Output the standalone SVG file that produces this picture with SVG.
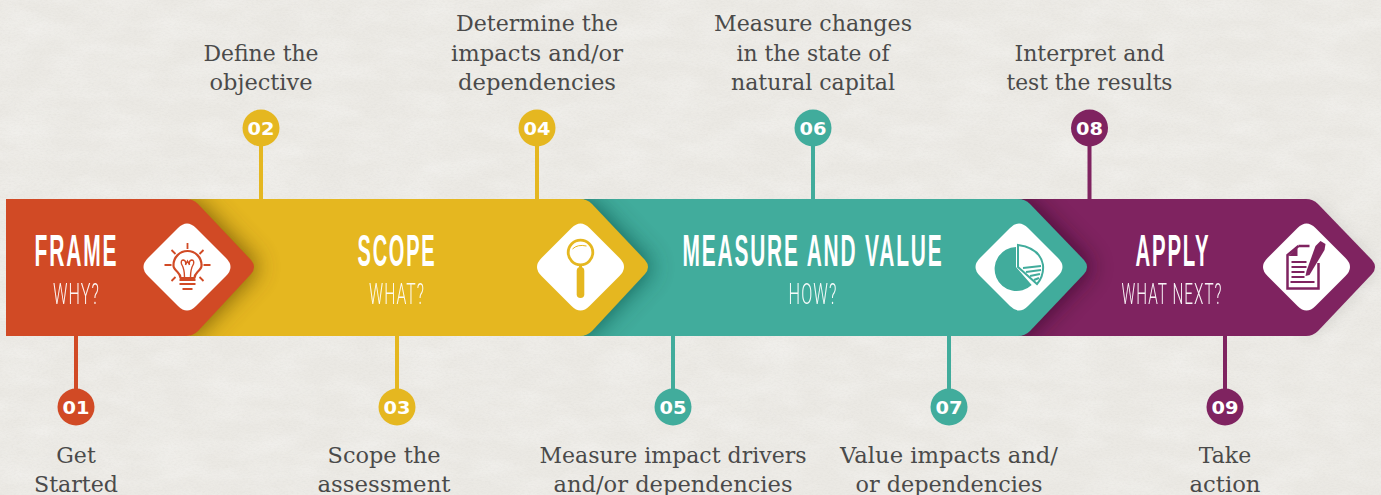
<svg xmlns="http://www.w3.org/2000/svg" width="1381" height="495" viewBox="0 0 1381 495">
<style>
.d{font-family:"DejaVu Serif","Liberation Serif",serif;font-size:22px;fill:#4a4a4a;text-anchor:middle;font-weight:400}
.n{font-family:"DejaVu Sans","Liberation Sans",sans-serif;font-size:18px;font-weight:700;fill:#fff;text-anchor:middle}
.t{font-family:"Liberation Sans",Arial,sans-serif;font-size:45px;font-weight:700;letter-spacing:4px;fill:#fff;text-anchor:middle}
.s{font-family:Roboto,"Liberation Sans",Arial,sans-serif;font-size:30px;font-weight:300;letter-spacing:2px;fill:#fff;text-anchor:middle;opacity:.95}
.r{fill:#d14a25}.y{fill:#e5b720}.g{fill:#41ac9c}.p{fill:#7f2360}
.lr{stroke:#d14a25}.ly{stroke:#e5b720}.lg{stroke:#41ac9c}.lp{stroke:#7f2360}
.conn line{stroke-width:4}
</style>
<defs>
<filter id="paper" x="0" y="0" width="100%" height="100%">
<feTurbulence type="fractalNoise" baseFrequency="0.35 0.7" numOctaves="3" seed="7"/>
<feColorMatrix values="0 0 0 0 0.45  0 0 0 0 0.44  0 0 0 0 0.4  0.5 0 0 0 -0.2"/>
</filter>
<filter id="mottle" x="0" y="0" width="100%" height="100%">
<feTurbulence type="fractalNoise" baseFrequency="0.02 0.05" numOctaves="3" seed="3"/>
<feColorMatrix values="0 0 0 0 1  0 0 0 0 1  0 0 0 0 1  1.2 0 0 0 -0.4"/>
</filter>
<filter id="blur" x="-40%" y="-30%" width="180%" height="160%"><feGaussianBlur stdDeviation="12"/></filter>
<filter id="blurBg" x="-10%" y="-30%" width="120%" height="160%"><feGaussianBlur stdDeviation="9"/></filter>
<clipPath id="cy"><path d="M190 199H584L649 267L584 336H190Z"/></clipPath>
<clipPath id="cg"><path d="M584 199H1022L1088 267L1022 336H584Z"/></clipPath>
<clipPath id="cp"><path d="M1022 199H1316L1376 267L1316 336H1022Z"/></clipPath>
<path id="dia" d="M-9 -39Q0 -48 9 -39L39 -9Q48 0 39 9L9 39Q0 48 -9 39L-39 9Q-48 0 -39 -9Z" fill="#fff"/>
</defs>
<rect width="1381" height="495" fill="#ebe9e4"/>
<rect width="1381" height="495" filter="url(#mottle)" opacity=".4"/>
<rect width="1381" height="495" filter="url(#paper)" opacity=".35"/>
<path d="M1300 205H1316L1376 267L1316 332H1300Z" fill="#000" opacity=".12" filter="url(#blurBg)"/>

<g id="connectors" class="conn">
<line class="lr" x1="76" y1="336" x2="76" y2="400"/>
<line class="ly" x1="261" y1="199" x2="261" y2="135"/>
<line class="ly" x1="397" y1="336" x2="397" y2="400"/>
<line class="ly" x1="537" y1="199" x2="537" y2="135"/>
<line class="lg" x1="673" y1="336" x2="673" y2="400"/>
<line class="lg" x1="813" y1="199" x2="813" y2="135"/>
<line class="lg" x1="949" y1="336" x2="949" y2="400"/>
<line class="lp" x1="1089.500" y1="199" x2="1089.500" y2="135"/>
<line class="lp" x1="1225" y1="336" x2="1225" y2="400"/>
</g>

<g id="band-apply">
<path class="p" d="M1010 199H1306Q1313 199 1318 204L1372 260Q1378 267 1372 274L1318 331Q1313 336 1306 336H1010Z"/>
<g clip-path="url(#cp)"><path d="M1000 199H1026L1092 267L1026 336H1000Z" fill="#2c0a20" opacity=".75" filter="url(#blur)"/></g>
<text class="t" x="1173" y="265.500" textLength="75" lengthAdjust="spacingAndGlyphs">APPLY</text>
<text class="s" x="1172" y="304" textLength="101" lengthAdjust="spacingAndGlyphs">WHAT NEXT?</text>
<use href="#dia" x="1306.500" y="267"/>
<g transform="translate(1306.500 267)">
<path d="M-8 -21H3M-8 -21L-19 -12V21.500H12V-4" fill="none" stroke="#7f2360" stroke-width="2.500"/>
<path class="p" d="M-9 -20V-11H-18Z"/>
<path d="M-15 -5H0M-15 0H0M-15 5H-2M-15 10H-2M-16 15H8" stroke="#7f2360" stroke-width="2.200" fill="none"/>
<path class="p" d="M9 -21L14 -26 19 -23 18 -17 3 8 -1 9 0 4Z"/>
</g>
</g>

<g id="band-measure">
<path class="g" d="M570 199H1018Q1025 199 1030 204L1084 260Q1090 267 1084 274L1030 331Q1025 336 1018 336H570Z"/>
<g clip-path="url(#cg)"><path d="M560 199H588L653 267L588 336H560Z" fill="#0c4a40" opacity=".75" filter="url(#blur)"/></g>
<text class="t" x="813" y="265.500" textLength="261" lengthAdjust="spacingAndGlyphs">MEASURE AND VALUE</text>
<text class="s" x="813" y="304" textLength="49" lengthAdjust="spacingAndGlyphs">HOW?</text>
<use href="#dia" x="1019" y="267"/>
<g transform="translate(1019 267)">
<path class="g" d="M-3 -20V0L12.700 18A22 22 0 1 1 -3 -20Z"/>
<path d="M-1 -22V0L18 17Q25 9 24 -2Q21 -19 -1 -22Z" fill="#fff" stroke="#41ac9c" stroke-width="2"/>
<path d="M4 1L22 -1M7 5L22 3M11 9L21 7M15 13L20 11" stroke="#41ac9c" stroke-width="2.200" fill="none"/>
</g>
</g>

<g id="band-scope">
<path class="y" d="M170 199H580Q587 199 592 204L645 260Q651 267 645 274L592 331Q587 336 580 336H170Z"/>
<g clip-path="url(#cy)"><path d="M170 199H194L259 267L194 336H170Z" fill="#5c4300" opacity=".8" filter="url(#blur)"/></g>
<text class="t" x="397" y="265.500" textLength="79" lengthAdjust="spacingAndGlyphs">SCOPE</text>
<text class="s" x="397" y="304" textLength="56" lengthAdjust="spacingAndGlyphs">WHAT?</text>
<use href="#dia" x="580.500" y="267"/>
<g transform="translate(580.500 267)">
<circle cx="0" cy="-14.500" r="12.300" fill="none" stroke="#e5b720" stroke-width="2.800"/>
<path d="M-8 -18Q-3 -23 6 -21" fill="none" stroke="#e5b720" stroke-width="1"/>
<rect x="-3.800" y="0" width="7.600" height="31" rx="3.800" class="y"/>
<path d="M0 -2V2" stroke="#e5b720" stroke-width="3"/>
</g>
</g>

<g id="band-frame">
<path class="r" d="M6 199H186Q193 199 198 204L251 260Q257 267 251 274L198 331Q193 336 186 336H6Z"/>
<text class="t" x="76.500" y="265.500" textLength="84" lengthAdjust="spacingAndGlyphs">FRAME</text>
<text class="s" x="76.500" y="304" textLength="47" lengthAdjust="spacingAndGlyphs">WHY?</text>
<use href="#dia" x="187" y="267"/>
<g transform="translate(187.500 267)" stroke="#d14a25" fill="none">
<path stroke-width="2.200" stroke-linejoin="round" d="M-7 11Q-7 8 -10 5Q-14.500 1 -14 -2A14 14 0 0 1 14 -2Q14.500 1 10 5Q7 8 7 11Z"/>
<path stroke-width="1.400" d="M-3 10Q-3 2 -6 -3Q-7 -7 -4 -7Q-1 -6 -2 -2L0 -6 2 -2Q1 -6 4 -7Q7 -7 6 -3Q3 2 3 10"/>
<path stroke-width="2.200" d="M-8 13H8M-8 17H8M-5 22H5"/>
<path stroke-width="1.800" d="M0 -24V-18M-16 -17L-12 -13M16 -17L12 -13M-23 -2H-16M23 -2H16M-16 14L-12 10M16 14L12 10"/>
</g>
</g>

<g id="step-01"><circle class="r" cx="76" cy="407" r="18.500"/><text class="n" x="76" y="414" textLength="27" lengthAdjust="spacingAndGlyphs">01</text>
<text class="d" x="76" y="462.500">Get</text><text class="d" x="76" y="491.500" textLength="84" lengthAdjust="spacingAndGlyphs">Started</text></g>
<g id="step-02"><circle class="y" cx="261" cy="128" r="18.500"/><text class="n" x="261" y="135" textLength="27" lengthAdjust="spacingAndGlyphs">02</text>
<text class="d" x="261" y="61" textLength="115" lengthAdjust="spacingAndGlyphs">Define the</text><text class="d" x="261" y="90" textLength="103" lengthAdjust="spacingAndGlyphs">objective</text></g>
<g id="step-03"><circle class="y" cx="397" cy="407" r="18.500"/><text class="n" x="397" y="414" textLength="27" lengthAdjust="spacingAndGlyphs">03</text>
<text class="d" x="384" y="462.500" textLength="113" lengthAdjust="spacingAndGlyphs">Scope the</text><text class="d" x="384" y="491.500" textLength="133" lengthAdjust="spacingAndGlyphs">assessment</text></g>
<g id="step-04"><circle class="y" cx="537" cy="128" r="18.500"/><text class="n" x="537" y="135" textLength="27" lengthAdjust="spacingAndGlyphs">04</text>
<text class="d" x="537" y="30.500" textLength="162" lengthAdjust="spacingAndGlyphs">Determine the</text><text class="d" x="537" y="60.500" textLength="172" lengthAdjust="spacingAndGlyphs">impacts and/or</text><text class="d" x="537" y="89.500" textLength="158" lengthAdjust="spacingAndGlyphs">dependencies</text></g>
<g id="step-05"><circle class="g" cx="673" cy="407" r="18.500"/><text class="n" x="673" y="414" textLength="27" lengthAdjust="spacingAndGlyphs">05</text>
<text class="d" x="673" y="462.500" textLength="267" lengthAdjust="spacingAndGlyphs">Measure impact drivers</text><text class="d" x="673" y="491.500" textLength="239" lengthAdjust="spacingAndGlyphs">and/or dependencies</text></g>
<g id="step-06"><circle class="g" cx="813" cy="128" r="18.500"/><text class="n" x="813" y="135" textLength="27" lengthAdjust="spacingAndGlyphs">06</text>
<text class="d" x="813" y="30.500" textLength="198" lengthAdjust="spacingAndGlyphs">Measure changes</text><text class="d" x="813" y="60.500" textLength="153" lengthAdjust="spacingAndGlyphs">in the state of</text><text class="d" x="813" y="89.500" textLength="164" lengthAdjust="spacingAndGlyphs">natural capital</text></g>
<g id="step-07"><circle class="g" cx="949" cy="407" r="18.500"/><text class="n" x="949" y="414" textLength="27" lengthAdjust="spacingAndGlyphs">07</text>
<text class="d" x="949" y="462.500" textLength="218" lengthAdjust="spacingAndGlyphs">Value impacts and/</text><text class="d" x="949" y="491.500" textLength="187" lengthAdjust="spacingAndGlyphs">or dependencies</text></g>
<g id="step-08"><circle class="p" cx="1089.500" cy="128" r="18.500"/><text class="n" x="1089.500" y="135" textLength="27" lengthAdjust="spacingAndGlyphs">08</text>
<text class="d" x="1089.500" y="61" textLength="150" lengthAdjust="spacingAndGlyphs">Interpret and</text><text class="d" x="1089.500" y="90" textLength="166" lengthAdjust="spacingAndGlyphs">test the results</text></g>
<g id="step-09"><circle class="p" cx="1225" cy="407" r="18.500"/><text class="n" x="1225" y="414" textLength="27" lengthAdjust="spacingAndGlyphs">09</text>
<text class="d" x="1225" y="462.500">Take</text><text class="d" x="1225" y="491.500" textLength="71" lengthAdjust="spacingAndGlyphs">action</text></g>
</svg>
